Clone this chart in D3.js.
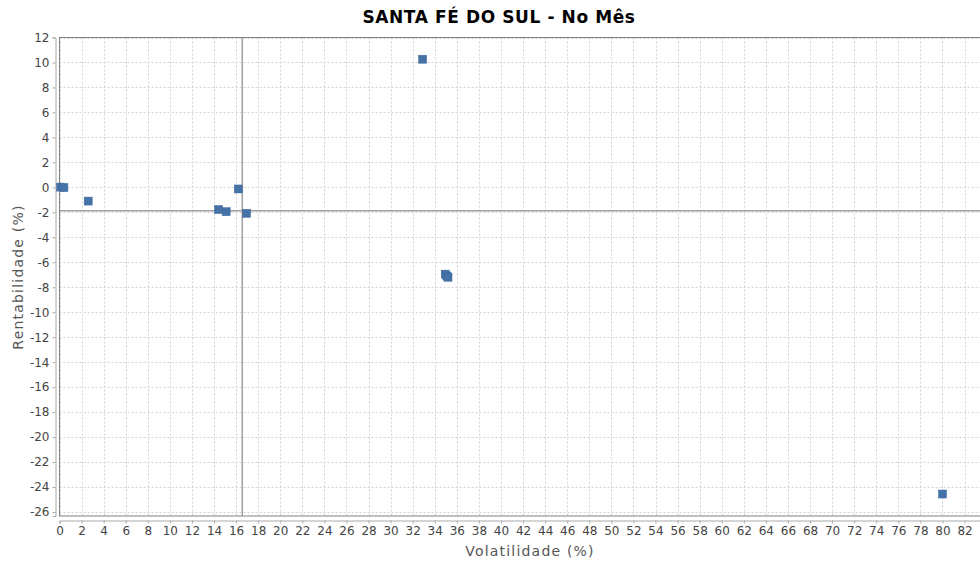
<!DOCTYPE html>
<html><head><meta charset="utf-8">
<script src="https://cdn.jsdelivr.net/npm/d3@7"></script>
<style>
body{margin:0;background:#fff;}
text{font-family:"DejaVu Sans",sans-serif;}
</style></head>
<body><svg id="c" width="980" height="563"></svg>
<script>
const titleText = "SANTA FÉ DO SUL - No Mês";
const xLabel = "Volatilidade (%)";
const yLabel = "Rentabilidade (%)";
const volatility = [0.1, 0.4, 2.6, 14.4, 15.1, 16.2, 16.95, 32.9, 34.95, 35.1, 35.2, 80.0];
const returns    = [0.02, -0.02, -1.1, -1.78, -1.95, -0.13, -2.08, 10.26, -6.95, -7.1, -7.2, -24.56];
const xTicks = d3.range(0, 84, 2);
const yTicks = d3.range(-26, 13, 2);
const refX = 16.56;
const refY = -1.88;

const svg = d3.select("#c");
const L = 59.5, R = 980, T = 37.5, B = 516;
const x = d3.scaleLinear().domain([0, 83.4]).range([L, R]);
const y = d3.scaleLinear().domain([-26.32, 12]).range([B, T]);

// grid
const g = svg.append("g");
g.selectAll(".gx").data(xTicks).join("line")
  .attr("x1", d => Math.round(x(d)) + 0.5).attr("x2", d => Math.round(x(d)) + 0.5)
  .attr("y1", T).attr("y2", B)
  .attr("stroke", "#d2d2d2").attr("stroke-width", 1).attr("stroke-dasharray", "2,2");
g.selectAll(".gy").data(yTicks).join("line")
  .attr("y1", d => Math.round(y(d)) + 0.5).attr("y2", d => Math.round(y(d)) + 0.5)
  .attr("x1", L).attr("x2", R)
  .attr("stroke", "#d2d2d2").attr("stroke-width", 1).attr("stroke-dasharray", "2,2");

// plot border
svg.append("rect").attr("x", L).attr("y", T).attr("width", R - L + 5).attr("height", B - T)
  .attr("fill", "none").attr("stroke", "#808080").attr("stroke-width", 1);

// reference lines
svg.append("line").attr("x1", x(refX)).attr("x2", x(refX)).attr("y1", T).attr("y2", B)
  .attr("stroke", "#a0a0a0").attr("stroke-width", 1.5);
svg.append("line").attr("x1", L).attr("x2", R).attr("y1", y(refY)).attr("y2", y(refY))
  .attr("stroke", "#a0a0a0").attr("stroke-width", 1.5);

// axes
const xAxis = svg.append("g").attr("transform", "translate(0,520.5)")
  .call(d3.axisBottom(x).tickValues(xTicks).tickSize(3).tickPadding(3).tickFormat(d3.format("d")));
const yAxis = svg.append("g").attr("transform", "translate(55.5,0)")
  .call(d3.axisLeft(y).tickValues(yTicks).tickSize(3).tickPadding(3).tickFormat(d3.format("d")));
[xAxis, yAxis].forEach(a => {
  a.select(".domain").attr("stroke", "#aaa");
  a.selectAll(".tick line").attr("stroke", "#aaa");
  a.selectAll("text").attr("fill", "#444").style("font-size", "12px").style("font-family", "DejaVu Sans");
});
yAxis.selectAll("text").text(d => d < 0 ? "-" + Math.abs(d) : d);

// points
const data = volatility.map((v, i) => [v, returns[i]]);
svg.append("g").selectAll("rect").data(data).join("rect")
  .attr("x", d => x(d[0]) - 4).attr("y", d => y(d[1]) - 4)
  .attr("width", 8).attr("height", 8)
  .attr("fill", "#4572a7").attr("stroke", "#3d679b").attr("stroke-width", 0.5);

// title & labels
svg.append("text").attr("x", 499).attr("y", 23).attr("text-anchor", "middle")
  .style("font-size", "17px").style("font-weight", "bold").style("letter-spacing", "0.6px")
  .attr("fill", "#000").text(titleText);
svg.append("text").attr("x", 530).attr("y", 556).attr("text-anchor", "middle")
  .style("font-size", "14px").style("letter-spacing", "1.2px").attr("fill", "#555").text(xLabel);
svg.append("text").attr("transform", "translate(23,277) rotate(-90)").attr("text-anchor", "middle")
  .style("font-size", "14px").style("letter-spacing", "1.2px").attr("fill", "#555").text(yLabel);
</script></body></html>
